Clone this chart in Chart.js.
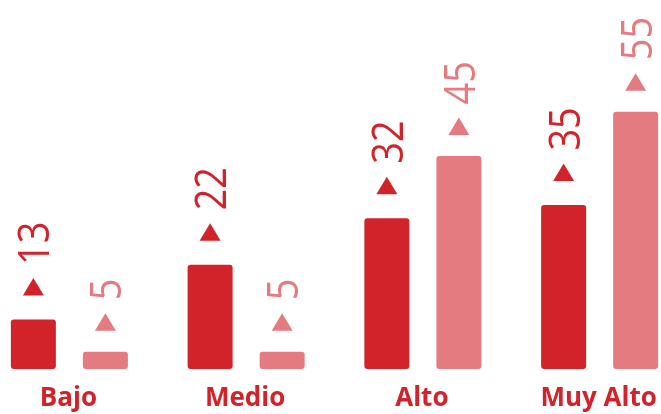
<!DOCTYPE html>
<html><head><meta charset="utf-8">
<script src="https://cdn.jsdelivr.net/npm/chart.js@4/dist/chart.umd.min.js"></script>
<style>
html,body{margin:0;padding:0;overflow:hidden;background:#fff;width:661px;height:414px}
#wrap{position:absolute;left:-19px;top:0;width:707px;height:414px}
</style>
</head><body>
<div id="wrap"><canvas id="c" width="707" height="414"></canvas></div>
<script>
// Categories and series
const categories = ['Bajo', 'Medio', 'Alto', 'Muy Alto'];
// bar heights (in the chart's value units)
const seriesA = [10.6, 22.3, 32.3, 35.1];
const seriesB = [3.7, 3.7, 45.6, 55.1];
// value labels printed above the bars
const labelsA = ['13', '22', '32', '35'];
const labelsB = ['5', '5', '45', '55'];

const colorA = '#d2232a';
const colorB = '#e47b80';

const markerPlugin = {
  id: 'markers',
  afterDatasetsDraw(chart) {
    const ctx = chart.ctx;
    const sets = [[labelsA, colorA, 24], [labelsB, colorB, 21]];
    chart.data.datasets.forEach((ds, di) => {
      const meta = chart.getDatasetMeta(di);
      const [labs, col, gap] = sets[di];
      meta.data.forEach((el, i) => {
        const x = el.x;
        const triBottom = el.y - gap;
        const th = 17.5, tw = 21;
        ctx.save();
        ctx.fillStyle = col;
        ctx.beginPath();
        ctx.moveTo(x - tw / 2, triBottom);
        ctx.lineTo(x + tw / 2, triBottom);
        ctx.lineTo(x, triBottom - th);
        ctx.closePath();
        ctx.fill();
        // rotated value label
        ctx.translate(x + 16, triBottom - th - 13);
        ctx.rotate(-Math.PI / 2);
        ctx.scale(0.86, 1);
        ctx.font = '500 44px "Open Sans"';
        ctx.textAlign = 'left';
        ctx.textBaseline = 'alphabetic';
        ctx.fillText(labs[i], 0, 0);
        ctx.restore();
      });
    });
    // category labels
    const xs = chart.scales.x;
    ctx.save();
    ctx.fillStyle = colorA;
    ctx.font = '700 26px "Open Sans"';
    ctx.textAlign = 'center';
    ctx.textBaseline = 'alphabetic';
    categories.forEach((c, i) => {
      ctx.fillText(c, xs.getPixelForValue(i) - 1, 406);
    });
    ctx.restore();
  }
};

new Chart(document.getElementById('c'), {
  type: 'bar',
  data: {
    labels: categories,
    datasets: [
      { data: seriesA, backgroundColor: colorA, borderRadius: 3, borderSkipped: false },
      { data: seriesB, backgroundColor: colorB, borderRadius: 3, borderSkipped: false }
    ]
  },
  options: {
    responsive: false,
    animation: false,
    devicePixelRatio: 1,
    layout: { padding: { left: 0, right: 0, top: 0, bottom: 45 } },
    datasets: { bar: { categoryPercentage: 0.815, barPercentage: 0.625 } },
    plugins: { legend: { display: false }, tooltip: { enabled: false } },
    scales: {
      x: { display: false },
      y: { display: false, min: 0, max: 79 }
    }
  },
  plugins: [markerPlugin]
});
</script>
</body></html>
